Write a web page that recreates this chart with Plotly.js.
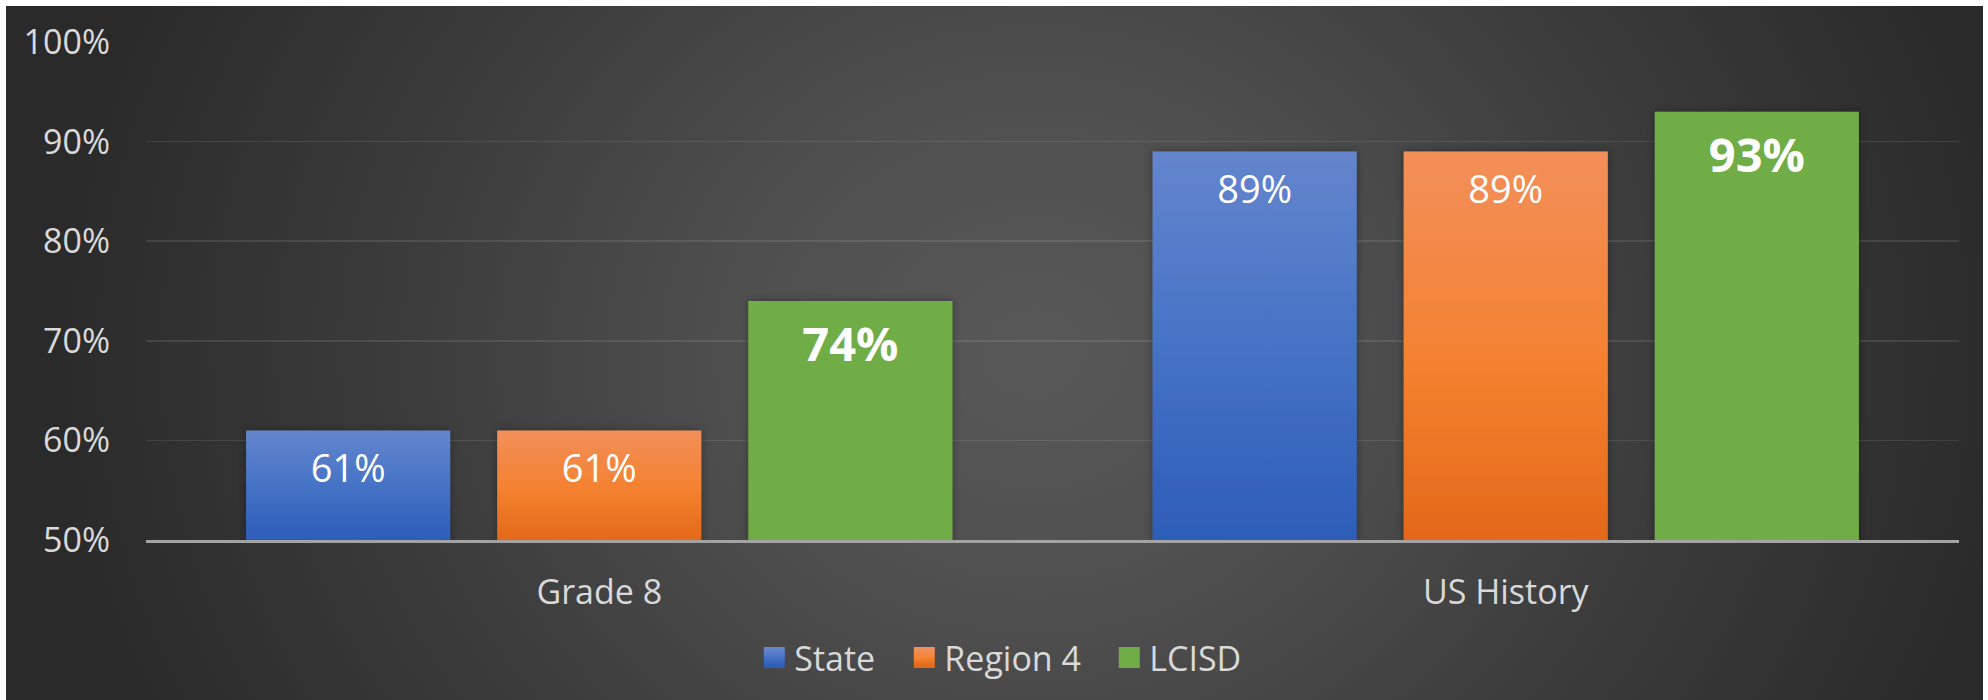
<!DOCTYPE html>
<html>
<head>
<meta charset="utf-8">
<script src="https://cdn.plot.ly/plotly-3.0.1.min.js"></script>
<style>
  html, body { margin: 0; padding: 0; background: #ffffff; }
  #bg {
    position: absolute; left: 6px; top: 6px; width: 1977px; height: 694px;
    background: radial-gradient(ellipse 50% 125% at 52% 50%, #585858 0%, #4f4f4f 30%, #3b3b3b 65%, #2a2a2a 100%);
  }
  #chart { position: absolute; left: 0; top: 0; width: 1988px; height: 700px; }
</style>
</head>
<body>
<div id="bg"></div>
<div id="chart"></div>
<script>
// ---- data ----
const categories = ['Grade 8', 'US History'];
const seriesNames = ['State', 'Region 4', 'LCISD'];
const stateValues = [0.61, 0.89];
const region4Values = [0.61, 0.89];
const lcisdValues = [0.74, 0.93];
const yTickValues = [0.5, 0.6, 0.7, 0.8, 0.9, 1.0];
const yTickLabels = ['50%', '60%', '70%', '80%', '90%', '100%'];

// ---- styles ----
const seriesValues = [stateValues, region4Values, lcisdValues];
const seriesColors = ['#4a75c7', '#f07e34', '#70ad47'];
const gradientStops = [
  [['0%', '#6485cd'], ['50%', '#4673c6'], ['100%', '#2d5db8']],
  [['0%', '#f28f5a'], ['55%', '#f4812f'], ['100%', '#e3681a']],
  null
];
const legendWidths = [105, 160, 113];
const FONT = 'Open Sans, Noto Sans, sans-serif';
const TXT = '#d9d9d9';

const traces = [];
// bars
seriesNames.forEach((name, i) => {
  traces.push({
    type: 'bar', x: categories, y: seriesValues[i], name: name,
    offsetgroup: name, marker: { color: seriesColors[i], line: { width: 0 } },
    showlegend: false, hoverinfo: 'x+y+name'
  });
});
// data labels (grouped scatter so they sit over each bar)
seriesNames.forEach((name, i) => {
  const bold = i === 2;
  traces.push({
    type: 'scatter', mode: 'markers+text', x: categories, y: seriesValues[i], name: name,
    offsetgroup: name, orientation: 'v',
    texttemplate: '%{y:.0%}', textposition: 'bottom center',
    textfont: { family: FONT, size: bold ? 47 : 38, color: '#ffffff', weight: bold ? 'bold' : 'normal' },
    marker: { size: bold ? 38 : 35, opacity: 0 },
    showlegend: false, hoverinfo: 'skip', cliponaxis: false
  });
});
// legend entries
seriesNames.forEach((name, i) => {
  traces.push({
    type: 'scatter', mode: 'markers', x: [null], y: [null], name: name,
    offsetgroup: name, orientation: 'v', legendwidth: legendWidths[i],
    marker: { symbol: 'square', size: 16, color: seriesColors[i], line: { width: 5, color: seriesColors[i] } },
    showlegend: true, hoverinfo: 'skip'
  });
});

const layout = {
  width: 1988, height: 700,
  paper_bgcolor: 'rgba(0,0,0,0)', plot_bgcolor: 'rgba(0,0,0,0)',
  margin: { l: 146, r: 29, t: 41, b: 160, pad: 0 },
  barmode: 'group', bargap: 0.169, bargroupgap: 0.187,
  scattermode: 'group', scattergap: 0.169,
  font: { family: FONT, color: TXT, size: 34 },
  xaxis: {
    type: 'category', showgrid: false, zeroline: false,
    showline: true, linecolor: '#a3a3a3', linewidth: 3,
    ticks: '', tickfont: { family: FONT, size: 34, color: TXT },
    ticklabelstandoff: 20, fixedrange: true
  },
  yaxis: {
    range: [0.5, 1.001], tickvals: yTickValues, ticktext: yTickLabels,
    showgrid: true, gridcolor: 'rgba(255,255,255,0.10)', gridwidth: 1.5,
    zeroline: false, showline: false, ticks: '',
    tickfont: { family: FONT, size: 34, color: TXT },
    ticklabelstandoff: 35, fixedrange: true
  },
  legend: {
    orientation: 'h', x: 0.477, xanchor: 'center', y: -0.2365, yanchor: 'middle',
    font: { family: FONT, size: 34, color: TXT }, bgcolor: 'rgba(0,0,0,0)',
    itemclick: false, itemdoubleclick: false
  },
  showlegend: true
};

const gd = document.getElementById('chart');
Plotly.newPlot(gd, traces, layout, { displayModeBar: false, staticPlot: true }).then(() => {
  const ns = 'http://www.w3.org/2000/svg';
  const svg = gd.querySelector('svg.main-svg');
  let defs = svg.querySelector('defs');
  if (!defs) { defs = document.createElementNS(ns, 'defs'); svg.insertBefore(defs, svg.firstChild); }
  function makeGrad(id, stops, user, y1, y2) {
    const lg = document.createElementNS(ns, 'linearGradient');
    lg.setAttribute('id', id);
    if (user) {
      lg.setAttribute('gradientUnits', 'userSpaceOnUse');
      lg.setAttribute('x1', '0'); lg.setAttribute('x2', '0');
      lg.setAttribute('y1', String(y1)); lg.setAttribute('y2', String(y2));
    } else {
      lg.setAttribute('x1', '0'); lg.setAttribute('y1', '0');
      lg.setAttribute('x2', '0'); lg.setAttribute('y2', '1');
    }
    stops.forEach(([off, col]) => {
      const s = document.createElementNS(ns, 'stop');
      s.setAttribute('offset', off); s.setAttribute('stop-color', col);
      lg.appendChild(s);
    });
    defs.appendChild(lg);
    return 'url(#' + id + ')';
  }
  const f = document.createElementNS(ns, 'filter');
  f.setAttribute('id', 'barShadow');
  f.setAttribute('x', '-20%'); f.setAttribute('y', '-20%');
  f.setAttribute('width', '140%'); f.setAttribute('height', '140%');
  const ds = document.createElementNS(ns, 'feDropShadow');
  ds.setAttribute('dx', '0'); ds.setAttribute('dy', '0');
  ds.setAttribute('stdDeviation', '4');
  ds.setAttribute('flood-color', '#000'); ds.setAttribute('flood-opacity', '0.35');
  f.appendChild(ds); defs.appendChild(f);

  const ya = gd._fullLayout.yaxis;
  const yBottom = ya._length;
  let gid = 0;
  gd.querySelectorAll('.barlayer .trace').forEach((tr, i) => {
    tr.querySelectorAll('path').forEach(p => {
      p.setAttribute('filter', 'url(#barShadow)');
      if (!gradientStops[i]) return;
      const bb = p.getBBox();
      p.style.fill = makeGrad('barGrad' + (gid++), gradientStops[i], true, bb.y, yBottom);
    });
  });
  gd.querySelectorAll('.legend .traces').forEach((tr, i) => {
    if (!gradientStops[i]) return;
    const url = makeGrad('legGrad' + i, gradientStops[i], false);
    tr.querySelectorAll('.legendpoints path').forEach(p => { p.style.fill = url; p.style.stroke = url; });
  });
});
</script>
</body>
</html>
